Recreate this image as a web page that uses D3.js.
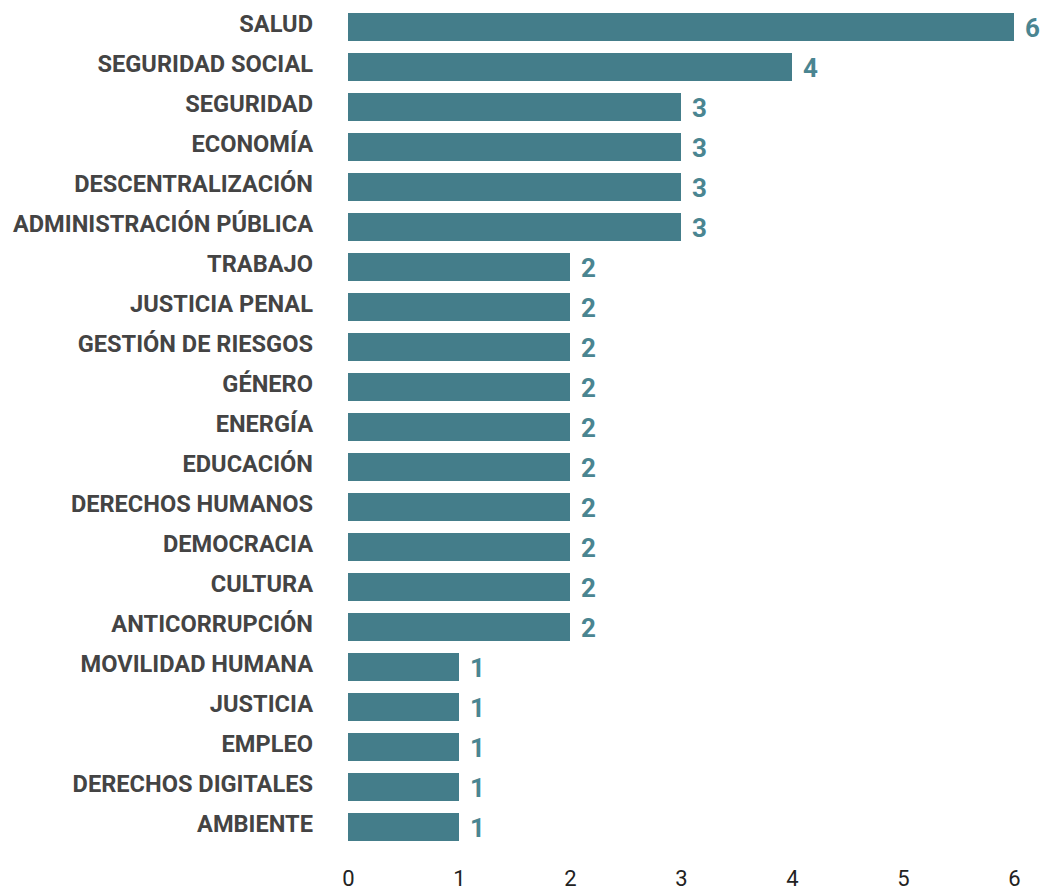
<!DOCTYPE html>
<meta charset="utf-8">
<title>Temas</title>
<style>
  body { margin: 0; background: #fff; }
  .cat { font-family: Roboto, sans-serif; font-weight: 700; font-size: 23.6px; fill: #444; }
  .val { font-family: Roboto, sans-serif; font-weight: 700; font-size: 26px; fill: #4a8591; }
  .axis text { font-family: Roboto, sans-serif; font-size: 22px; fill: #222; }
  .axis path, .axis line { display: none; }
</style>
<svg id="chart"></svg>
<script src="https://cdnjs.cloudflare.com/ajax/libs/d3/7.8.5/d3.min.js"></script>
<script>
var categories = ["SALUD", "SEGURIDAD SOCIAL", "SEGURIDAD", "ECONOMÍA", "DESCENTRALIZACIÓN",
  "ADMINISTRACIÓN PÚBLICA", "TRABAJO", "JUSTICIA PENAL", "GESTIÓN DE RIESGOS", "GÉNERO",
  "ENERGÍA", "EDUCACIÓN", "DERECHOS HUMANOS", "DEMOCRACIA", "CULTURA", "ANTICORRUPCIÓN",
  "MOVILIDAD HUMANA", "JUSTICIA", "EMPLEO", "DERECHOS DIGITALES", "AMBIENTE"];
var values = [6, 4, 3, 3, 3, 3, 2, 2, 2, 2, 2, 2, 2, 2, 2, 2, 1, 1, 1, 1, 1];
var ticks = [0, 1, 2, 3, 4, 5, 6];

var width = 1041, height = 890;

var svg = d3.select("#chart")
    .attr("width", width)
    .attr("height", height);

var x = d3.scaleLinear()
    .domain([0, 6])
    .range([348, 1014]);

var y = d3.scaleBand()
    .domain(categories)
    .range([7, 847])
    .paddingInner(0.3)
    .paddingOuter(0.15);

var data = categories.map(function(c, i) { return {cat: c, val: values[i]}; });

svg.selectAll("rect.bar")
  .data(data)
  .enter().append("rect")
    .attr("class", "bar")
    .attr("x", x(0))
    .attr("y", function(d) { return y(d.cat); })
    .attr("width", function(d) { return x(d.val) - x(0); })
    .attr("height", y.bandwidth())
    .attr("fill", "#447d8a");

// category labels sit a little above the bar centre
svg.selectAll("text.cat")
  .data(data)
  .enter().append("text")
    .attr("class", "cat")
    .attr("x", 313)
    .attr("y", function(d) { return y(d.cat) + y.bandwidth() / 2 - 3; })
    .attr("dy", "0.35em")
    .attr("text-anchor", "end")
    .text(function(d) { return d.cat; });

svg.selectAll("text.val")
  .data(data)
  .enter().append("text")
    .attr("class", "val")
    .attr("x", function(d) { return x(d.val) + 11; })
    .attr("y", function(d) { return y(d.cat) + y.bandwidth() / 2 + 1; })
    .attr("dy", "0.35em")
    .text(function(d) { return d.val; });

svg.append("g")
    .attr("class", "axis")
    .attr("transform", "translate(0,886)")
    .call(d3.axisBottom(x).tickValues(ticks).tickFormat(d3.format("d")).tickSize(0).tickPadding(0))
    .selectAll("text").attr("dy", "0");
</script>
